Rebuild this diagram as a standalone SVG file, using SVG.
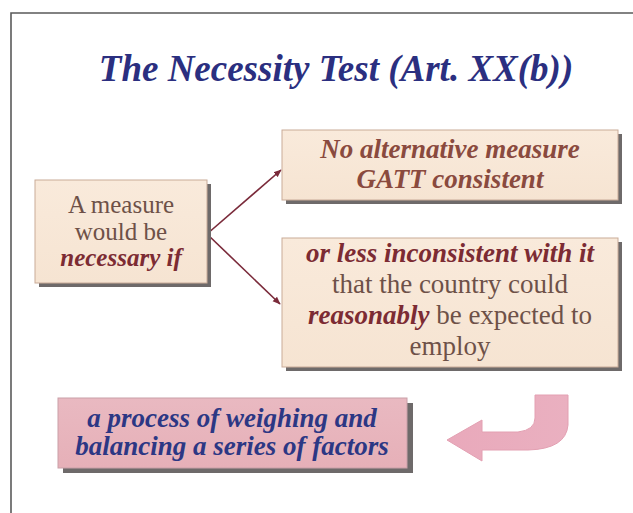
<svg xmlns="http://www.w3.org/2000/svg" width="633" height="513" viewBox="0 0 633 513">
<defs>
<linearGradient id="peach" x1="0" y1="0" x2="0" y2="1">
<stop offset="0" stop-color="#f9eadb"/>
<stop offset="1" stop-color="#f6e4d2"/>
</linearGradient>
<linearGradient id="pink" x1="0" y1="0" x2="0" y2="1">
<stop offset="0" stop-color="#e9b9c1"/>
<stop offset="1" stop-color="#e6b0b8"/>
</linearGradient>
<linearGradient id="arrowg" x1="0" y1="0" x2="1" y2="0">
<stop offset="0" stop-color="#e9a9bb"/>
<stop offset="1" stop-color="#eab0c0"/>
</linearGradient>
<marker id="ah" viewBox="0 0 10 10" refX="9" refY="5" markerWidth="5" markerHeight="5" orient="auto">
<path d="M0,1 L10,5 L0,9 Z" fill="#7a2a3a"/>
</marker>
</defs>
<rect x="0" y="0" width="633" height="513" fill="#ffffff"/>
<path d="M11,513 L11,13 L633,13" fill="none" stroke="#5a5a5a" stroke-width="1.6"/>

<g id="title" font-family="Liberation Serif" text-anchor="middle">
<text x="336" y="81" font-size="37" fill="#2b2f80" font-weight="bold" font-style="italic">The Necessity Test (Art. XX(b))</text>
</g>

<g id="connectors" stroke="#7a2a3a" stroke-width="1.6" fill="none">
<path d="M207,234 L281,170" marker-end="url(#ah)"/>
<path d="M207,234 L280,304" marker-end="url(#ah)"/>
</g>

<g id="condition" font-family="Liberation Serif" text-anchor="middle">
<rect x="39" y="184" width="172" height="103" fill="#6e6a6a"/>
<rect x="35" y="180" width="172" height="103" fill="url(#peach)" stroke="#c9ab98"/>
<text x="121" y="213" font-size="25" fill="#6e5148">A measure</text>
<text x="121" y="240" font-size="25" fill="#6e5148">would be</text>
<text x="121" y="266" font-size="25" fill="#7c2b33" font-weight="bold" font-style="italic">necessary if</text>
</g>

<g id="alternative" font-family="Liberation Serif" text-anchor="middle">
<rect x="286" y="134" width="336" height="70" fill="#6e6a6a"/>
<rect x="282" y="130" width="336" height="70" fill="url(#peach)" stroke="#c9ab98"/>
<text x="450" y="158" font-size="27" fill="#8a4a3e" font-weight="bold" font-style="italic">No alternative measure</text>
<text x="450" y="188" font-size="27" fill="#8a4a3e" font-weight="bold" font-style="italic">GATT consistent</text>
</g>

<g id="less-inconsistent" font-family="Liberation Serif" text-anchor="middle">
<rect x="286" y="242" width="336" height="129" fill="#6e6a6a"/>
<rect x="282" y="238" width="336" height="129" fill="url(#peach)" stroke="#c9ab98"/>
<text x="450" y="262" font-size="27" fill="#7c2b33" font-weight="bold" font-style="italic">or less inconsistent with it</text>
<text x="450" y="293" font-size="27" fill="#6e5148">that the country could</text>
<text x="450" y="324" font-size="27" fill="#6e5148"><tspan fill="#7c2b33" font-weight="bold" font-style="italic">reasonably</tspan> be expected to</text>
<text x="450" y="355" font-size="27" fill="#6e5148">employ</text>
</g>

<g id="process" font-family="Liberation Serif" text-anchor="middle">
<rect x="63" y="403" width="350" height="70" fill="#6e6a6a"/>
<rect x="58" y="398" width="349" height="70" fill="url(#pink)" stroke="#c9a0a8"/>
<text x="232" y="427" font-size="27" fill="#2c3784" font-weight="bold" font-style="italic">a process of weighing and</text>
<text x="232" y="455" font-size="27" fill="#2c3784" font-weight="bold" font-style="italic">balancing a series of factors</text>
</g>

<g id="curved-arrow">
<path d="M535,395 L568,395 L568,425 Q566,449 528,450 L482,450 L482,461 L447,440 L482,420 L482,432 L518,432 Q535,430 535,418 Z" fill="url(#arrowg)" stroke="#e3a0b2" stroke-width="1"/>
</g>
</svg>
